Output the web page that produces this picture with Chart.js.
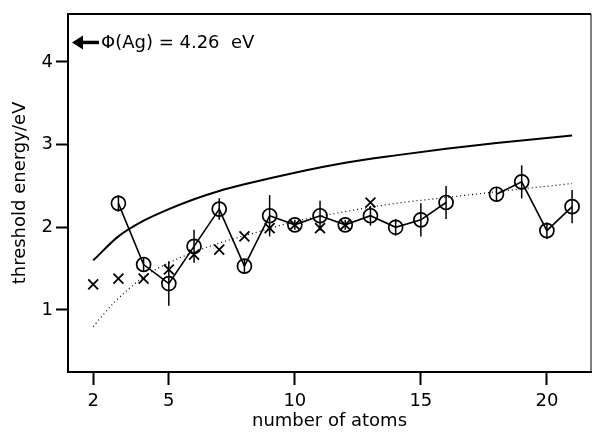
<!DOCTYPE html>
<html>
<head>
<meta charset="utf-8">
<script src="https://cdn.jsdelivr.net/npm/chart.js@4.4.1/dist/chart.umd.min.js"></script>
<style>
  body { margin: 0; background: #fff; }
</style>
</head>
<body>
<canvas id="threshold-chart" width="594" height="432"></canvas>
<script>
// measured thresholds (open circles, joined), gap at n = 17
var circleAtoms  = [3, 4, 5, 6, 7, 8, 9, 10, 11, 12, 13, 14, 15, 16, 17, 18, 19, 20, 21];
var circleEnergy = [2.29, 1.55, 1.32, 1.77, 2.22, 1.53, 2.14, 2.03, 2.14, 2.03, 2.14, 2.00, 2.09, 2.30, null, 2.40, 2.55, 1.96, 2.25];
var circleError  = [0.10, 0.08, 0.27, 0.20, 0.13, 0.08, 0.25, 0.06, 0.18, 0.06, 0.12, 0.10, 0.20, 0.20, null, 0.09, 0.20, 0.10, 0.20];

// second set of thresholds (crosses)
var crossAtoms  = [2, 3, 4, 5, 6, 7, 8, 9, 10, 11, 12, 13];
var crossEnergy = [1.31, 1.38, 1.38, 1.49, 1.67, 1.73, 1.89, 1.99, 2.03, 1.99, 2.03, 2.30];

// model curves
var solidAtoms  = [2, 3, 4, 5, 6, 7, 8, 10, 12, 14, 16, 18, 21];
var solidEnergy = [1.60, 1.89, 2.08, 2.22, 2.34, 2.44, 2.52, 2.66, 2.78, 2.87, 2.95, 3.02, 3.11];
var dottedAtoms  = [2, 2.8, 4, 5, 6, 7, 8.6, 10, 12, 14, 16, 18, 21];
var dottedEnergy = [0.80, 1.08, 1.40, 1.57, 1.70, 1.81, 1.95, 2.07, 2.19, 2.29, 2.36, 2.43, 2.53];

var xTickValues = [2, 5, 10, 15, 20];
var yTickValues = [1, 2, 3, 4];

var workFunction = 4.26;
var workFunctionLabel = '\u03A6(Ag) = 4.26  eV';

var fontFamily = '"DejaVu Sans", sans-serif';

function toPoints(xs, ys) {
    return xs.map(function (x, i) { return { x: x, y: ys[i] }; });
}

var frameAndErrors = {
    id: 'frameAndErrors',
    afterDatasetsDraw: function (chart) {
        const ctx = chart.ctx;
        const area = chart.chartArea;
        const xs = chart.scales.x;
        const ys = chart.scales.y;

        ctx.save();
        ctx.strokeStyle = '#000';

        // top and right of the frame
        ctx.lineWidth = 2;
        ctx.beginPath();
        ctx.moveTo(area.left, area.top);
        ctx.lineTo(area.right, area.top);
        ctx.stroke();
        ctx.lineWidth = 1;
        ctx.beginPath();
        ctx.moveTo(area.right, area.top);
        ctx.lineTo(area.right, area.bottom);
        ctx.stroke();

        // error bars on the circles
        ctx.lineWidth = 1.5;
        circleAtoms.forEach(function (n, i) {
            if (circleEnergy[i] === null) return;
            const px = xs.getPixelForValue(n);
            ctx.beginPath();
            ctx.moveTo(px, ys.getPixelForValue(circleEnergy[i] + circleError[i]));
            ctx.lineTo(px, ys.getPixelForValue(circleEnergy[i] - circleError[i]));
            ctx.stroke();
        });

        // work function arrow and label
        const py = ys.getPixelForValue(workFunction) + 2;
        const x0 = area.left + 4;
        ctx.lineWidth = 3.5;
        ctx.beginPath();
        ctx.moveTo(x0 + 8, py);
        ctx.lineTo(x0 + 27, py);
        ctx.stroke();
        ctx.fillStyle = '#000';
        ctx.beginPath();
        ctx.moveTo(x0, py);
        ctx.lineTo(x0 + 11, py - 7);
        ctx.lineTo(x0 + 11, py + 7);
        ctx.closePath();
        ctx.fill();
        ctx.font = '18px ' + fontFamily;
        ctx.textAlign = 'left';
        ctx.textBaseline = 'middle';
        ctx.fillText(workFunctionLabel, x0 + 29, py + 1);
        ctx.restore();
    }
};

var ctx = document.getElementById('threshold-chart');

var config = {
    type: 'line',
    data: {
        datasets: [{
            label: 'measured',
            data: toPoints(circleAtoms, circleEnergy),
            borderColor: '#000',
            borderWidth: 1.6,
            backgroundColor: 'rgba(0,0,0,0)',
            pointStyle: 'circle',
            pointRadius: 7,
            pointBorderWidth: 1.7,
            pointBorderColor: '#000',
            pointBackgroundColor: 'rgba(0,0,0,0)',
            spanGaps: false,
            tension: 0
        }, {
            label: 'crosses',
            data: toPoints(crossAtoms, crossEnergy),
            showLine: false,
            pointStyle: 'crossRot',
            pointRadius: 7,
            pointBorderWidth: 1.8,
            pointBorderColor: '#000'
        }, {
            label: 'solid curve',
            data: toPoints(solidAtoms, solidEnergy),
            borderColor: '#000',
            borderWidth: 2,
            pointRadius: 0,
            cubicInterpolationMode: 'monotone'
        }, {
            label: 'dotted curve',
            data: toPoints(dottedAtoms, dottedEnergy),
            borderColor: '#000',
            borderWidth: 1.2,
            borderDash: [1, 3],
            pointRadius: 0,
            cubicInterpolationMode: 'monotone'
        }]
    },
    options: {
        responsive: false,
        animation: false,
        layout: {
            autoPadding: false,
            padding: { top: 14, right: 3, left: 0, bottom: 0 }
        },
        plugins: {
            legend: { display: false },
            tooltip: { enabled: false }
        },
        scales: {
            x: {
                type: 'linear',
                min: 1.0,
                max: 21.75,
                afterBuildTicks: function (scale) {
                    scale.ticks = xTickValues.map(function (v) { return { value: v }; });
                },
                afterFit: function (scale) {
                    scale.height = 60;
                    scale.paddingLeft = 0;
                    scale.paddingRight = 0;
                },
                grid: {
                    drawOnChartArea: false,
                    drawTicks: true,
                    tickLength: 13,
                    tickWidth: 2,
                    tickColor: '#000'
                },
                border: { display: true, color: '#000', width: 2 },
                ticks: {
                    color: '#000',
                    font: { family: fontFamily, size: 18 },
                    padding: 6,
                    maxRotation: 0,
                    autoSkip: false
                },
                title: {
                    display: true,
                    text: 'number of atoms',
                    color: '#000',
                    font: { family: fontFamily, size: 18 },
                    padding: { top: 0, bottom: 0 }
                }
            },
            y: {
                min: 0.25,
                max: 4.58,
                afterBuildTicks: function (scale) {
                    scale.ticks = yTickValues.map(function (v) { return { value: v }; });
                },
                afterFit: function (scale) {
                    scale.width = 68;
                    scale.paddingTop = 0;
                    scale.paddingBottom = 0;
                },
                grid: {
                    drawOnChartArea: false,
                    drawTicks: true,
                    tickLength: 12,
                    tickWidth: 2,
                    tickColor: '#000'
                },
                border: { display: true, color: '#000', width: 2 },
                ticks: {
                    color: '#000',
                    font: { family: fontFamily, size: 18 },
                    padding: 3
                },
                title: {
                    display: true,
                    text: 'threshold energy/eV',
                    color: '#000',
                    font: { family: fontFamily, size: 18 },
                    padding: { top: 10, bottom: 0 }
                }
            }
        }
    },
    plugins: [frameAndErrors]
};

var thresholdChart = new Chart(ctx, config);
</script>
</body>
</html>
